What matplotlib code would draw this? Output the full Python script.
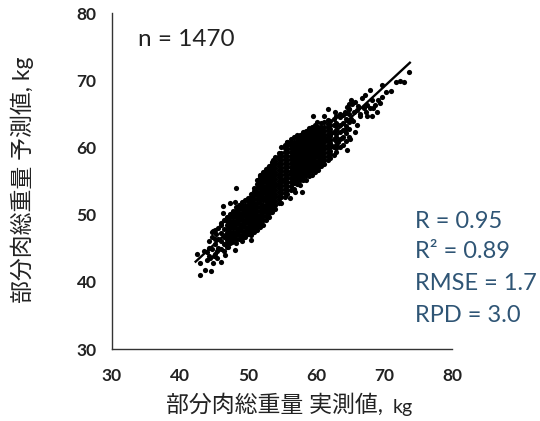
# -*- coding: utf-8 -*-
import numpy as np, matplotlib
matplotlib.use("Agg"); import matplotlib.pyplot as plt

# 外れ気味の点
out_x = [43.0, 44.6, 43.7, 42.5, 42.9, 43.9, 44.8, 46.1, 45.4, 46.6, 48.1, 50.5, 46.0, 46.3, 46.3, 47.35, 48.1, 48.2,
         53.0, 51.8, 53.7, 57.2, 55.7, 59.6, 60.2, 61.7, 56.9, 57.9, 56.2, 64.5, 65.7, 66.0, 65.0, 64.3, 65.2, 65.7,
         67.5, 68.2, 66.5, 68.9, 69.4, 71.1, 71.8, 72.9, 73.7, 69.7, 68.0, 67.2, 69.7, 68.2, 67.5, 67.9, 67.0, 68.7,
         66.8, 67.4, 68.4, 69.1, 66.2, 64.9, 65.6, 72.3, 70.3, 63.6, 62.8, 61.2, 66.4, 65.1,
         44.0, 45.0, 45.5, 44.4, 46.4, 47.1, 47.6, 43.6, 44.9, 45.3, 64.6, 64.9, 65.3, 66.0, 63.2, 63.8, 64.2, 62.4, 65.5]
out_y = [41.0, 41.65, 41.75, 44.2, 42.75, 43.2, 42.75, 43.0, 43.5, 44.0, 44.7, 46.2, 48.7, 50.2, 51.3, 51.8, 51.9, 53.9,
         56.9, 55.9, 58.1, 61.7, 60.8, 64.6, 63.8, 65.7, 53.4, 53.4, 52.4, 59.6, 62.3, 63.3, 61.3, 65.3, 67.05, 66.8,
         64.6, 64.6, 64.6, 65.3, 66.55, 68.4, 69.7, 69.7, 71.2, 69.3, 68.6, 67.8, 67.5, 67.0, 66.3, 65.8, 65.8, 66.3,
         67.3, 65.2, 65.9, 67.1, 66.1, 66.4, 65.2, 69.9, 68.2, 65.0, 65.2, 64.7, 65.0, 64.2,
         44.4, 43.9, 44.6, 43.5, 44.6, 45.2, 45.9, 44.6, 47.5, 47.1, 66.0, 65.7, 66.4, 65.6, 60.8, 61.4, 62.6, 60.2, 63.9]
# 密集帯：実測値の列ごとに予測値を読む
col_x = [44.2, 44.7, 45.1, 45.6, 46.0, 46.5, 46.9, 47.3, 47.8, 48.2, 48.7, 49.1, 49.6, 50.0, 50.4, 50.9, 51.3, 51.8,
         52.2, 52.7, 53.1, 53.6, 54.0, 54.5, 54.9, 55.4, 55.8, 56.3, 56.7, 57.2, 57.6, 58.1, 58.5, 59.0, 59.4, 59.9,
         60.3, 60.8, 61.2, 61.7, 62.1, 62.6, 63.0, 63.5, 63.9, 64.4, 64.8]
col_y = [[43.9, 45.0, 46.1], [44.9, 46.6, 47.4], [44.2, 45.6, 46.3, 47.7], [45.1, 46.3, 48.0],
         [44.9, 46.0, 47.2, 48.4], [45.6, 46.7, 47.9, 49.2], [45.2, 46.2, 47.3, 48.5, 49.7],
         [45.8, 46.9, 48.0, 49.1, 50.1], [46.3, 47.4, 48.5, 49.6, 50.6], [45.8, 46.9, 48.0, 49.1, 50.1, 51.1],
         [46.4, 47.5, 48.6, 49.7, 50.8, 51.5], [46.0, 47.0, 48.1, 49.2, 50.3, 51.3, 51.9], [46.6, 47.6, 48.7, 49.8, 50.9, 52.1],
         [47.1, 48.2, 49.3, 50.4, 51.5, 52.4], [46.9, 47.8, 48.9, 50.0, 51.1, 52.2, 53.1], [47.4, 48.5, 49.6, 50.7, 51.8, 52.9, 54.0],
         [47.7, 48.9, 50.0, 51.2, 52.3, 53.4, 54.5, 55.1], [48.1, 49.4, 50.6, 51.7, 52.8, 53.9, 55.0, 55.8],
         [48.5, 49.8, 50.9, 52.1, 53.2, 54.3, 55.4, 56.3], [49.2, 50.4, 51.5, 52.6, 53.7, 54.8, 55.9, 56.8],
         [49.7, 50.8, 51.9, 53.0, 54.1, 55.2, 56.3, 57.2], [50.4, 51.6, 52.7, 53.8, 54.9, 56.0, 57.1, 57.9],
         [50.9, 52.0, 53.1, 54.2, 55.3, 56.4, 57.5, 58.5], [51.7, 52.8, 53.9, 55.0, 56.1, 57.2, 58.3, 59.1],
         [51.8, 52.6, 53.7, 54.8, 55.9, 57.0, 58.1, 59.2, 60.0], [52.6, 53.8, 54.9, 56.0, 57.1, 58.2, 59.3, 60.4],
         [53.0, 54.3, 55.4, 56.5, 57.6, 58.7, 59.8, 60.8], [53.7, 54.9, 56.0, 57.1, 58.2, 59.3, 60.4, 61.2],
         [53.8, 54.7, 55.8, 56.9, 58.0, 59.1, 60.2, 61.5], [54.5, 55.5, 56.6, 57.7, 58.8, 59.9, 61.0, 61.8],
         [54.4, 55.2, 56.3, 57.4, 58.5, 59.6, 60.7, 61.9], [55.1, 56.1, 57.2, 58.3, 59.4, 60.5, 61.6, 62.3],
         [55.2, 55.9, 57.0, 58.1, 59.2, 60.3, 61.4, 62.5], [55.8, 56.8, 57.9, 59.0, 60.1, 61.2, 62.3, 62.9],
         [55.9, 56.6, 57.7, 58.8, 59.9, 61.0, 62.1, 63.1], [56.4, 57.4, 58.5, 59.6, 60.7, 61.8, 62.9, 63.3],
         [56.7, 57.5, 58.6, 59.7, 60.8, 61.9, 63.0], [57.2, 58.2, 59.3, 60.4, 61.5, 62.6, 63.6],
         [57.6, 58.6, 59.7, 60.8, 61.9, 63.0, 63.8], [58.1, 59.3, 60.4, 61.5, 62.6, 63.5, 64.1],
         [58.4, 59.5, 60.6, 61.7, 62.8, 63.9], [58.9, 60.1, 61.2, 62.3, 63.4, 64.3], [59.3, 60.4, 61.5, 62.6, 63.7, 64.6],
         [60.0, 61.2, 62.3, 63.4, 64.5], [60.4, 61.5, 62.6, 63.7, 64.8], [61.0, 62.1, 63.2, 64.3, 65.1],
         [61.6, 62.7, 63.8, 64.9, 65.7]]
# 列の間を埋める点
fill_x = [46.9, 47.8, 48.7, 49.6, 50.4, 51.3, 52.2, 53.1, 54.0, 54.9, 55.8, 56.7, 57.6, 58.5, 59.4, 60.3, 61.2, 62.1, 63.0,
          47.3, 48.2, 49.1, 50.0, 50.9, 51.8, 52.7, 53.6, 54.5, 55.4, 56.3, 57.2, 58.1, 59.0, 59.9, 60.8, 61.7]
fill_y = [[45.7, 46.75, 47.9, 49.1], [46.85, 47.95, 49.05, 50.1], [46.95, 48.05, 49.15, 50.25],
          [47.1, 48.15, 49.25, 50.35, 51.5], [47.35, 48.35, 49.45, 50.55, 51.65, 52.65],
          [48.3, 49.45, 50.6, 51.75, 52.85, 53.95], [49.15, 50.35, 51.5, 52.65, 53.75, 54.85, 55.85],
          [50.25, 51.35, 52.45, 53.55, 54.65, 55.75, 56.75], [51.45, 52.55, 53.65, 54.75, 55.85, 56.95, 58.0],
          [53.15, 54.25, 55.35, 56.45, 57.55, 58.65], [53.65, 54.85, 55.95, 57.05, 58.15, 59.25, 60.3],
          [55.25, 56.35, 57.45, 58.55, 59.65, 60.85], [55.75, 56.85, 57.95, 59.05, 60.15, 61.3],
          [56.45, 57.55, 58.65, 59.75, 60.85, 61.95], [57.15, 58.25, 59.35, 60.45, 61.55, 62.6],
          [57.1, 58.05, 59.15, 60.25, 61.35, 62.45], [58.1, 59.15, 60.25, 61.35, 62.45],
          [58.95, 60.05, 61.15, 62.25, 63.35], [59.85, 60.95, 62.05, 63.15],
          [46.35, 47.45, 48.55, 49.6], [46.35, 47.45, 48.55, 49.6, 50.6], [46.5, 47.55, 48.65, 49.75, 50.8],
          [47.65, 48.75, 49.85, 50.95, 51.95], [47.95, 49.05, 50.15, 51.25, 52.35, 53.45],
          [48.75, 50.0, 51.15, 52.25, 53.35, 54.45, 55.4], [49.8, 50.95, 52.05, 53.15, 54.25, 55.35, 56.35],
          [51.0, 52.15, 53.25, 54.35, 55.45, 56.55, 57.5], [52.25, 53.35, 54.45, 55.55, 56.65, 57.75, 58.7],
          [53.2, 54.35, 55.45, 56.55, 57.65, 58.75, 59.85], [54.3, 55.45, 56.55, 57.65, 58.75, 59.85, 60.8],
          [55.0, 56.05, 57.15, 58.25, 59.35, 60.45, 61.4], [55.6, 56.65, 57.75, 58.85, 59.95, 61.05, 61.95],
          [56.3, 57.35, 58.45, 59.55, 60.65, 61.75, 62.6], [56.9, 57.95, 59.05, 60.15, 61.25, 62.35],
          [57.7, 58.75, 59.85, 60.95, 62.05, 63.1], [58.7, 59.85, 60.95, 62.05, 63.05]]
fit_x = [42.3, 73.8]; fit_y = [43.0, 72.6]
ticks = [30, 40, 50, 60, 70, 80]
stats = ["R = 0.95", "R² = 0.89", "RMSE = 1.7", "RPD = 3.0"]

x = out_x + [a for a, ys in zip(col_x, col_y) for _ in ys] + [a for a, ys in zip(fill_x, fill_y) for _ in ys]
y = out_y + [b for ys in col_y for b in ys] + [b for ys in fill_y for b in ys]

plt.rcParams['font.family'] = ['Lato', 'Noto Sans CJK JP', 'DejaVu Sans']
W, H = 540, 421
fig = plt.figure(figsize=(W / 100, H / 100), dpi=100)
ax = fig.add_axes([112 / W, (H - 349) / H, 340 / W, 336 / H])
ax.scatter(x, y, s=14, c="black", lw=0, zorder=3)
ax.plot(fit_x, fit_y, color="black", lw=1.7, zorder=4)
ax.set_xlim(30, 80); ax.set_ylim(30, 80)
ax.set_xticks(ticks); ax.set_yticks(ticks)
ax.tick_params(length=0, labelsize=12.5, pad=14, colors="#222222")
ax.tick_params(axis="y", pad=11)
for t in ax.get_xticklabels() + ax.get_yticklabels():
    t.set_fontweight("bold")
for s in ["top", "right"]:
    ax.spines[s].set_visible(False)
for s in ["left", "bottom"]:
    ax.spines[s].set_color("#333333"); ax.spines[s].set_linewidth(1.0)

fig.text(166 / W, 1 - 405 / H, "部分肉総重量 実測値,", ha="left", va="center", fontsize=16.5, color="#222222")
fig.text(393 / W, 1 - 407 / H, "kg", ha="left", va="center", fontsize=14, color="#222222")
fig.text(22 / W, 1 - 180 / H, "部分肉総重量 予測値, kg", rotation=90, ha="center", va="center", fontsize=16.5, color="#222222")
fig.text(138 / W, 1 - 39 / H, "n = 1470", ha="left", va="center", fontsize=17.5, color="#222222")
for s, py in zip(stats, [221, 251, 284, 315]):
    fig.text(415 / W, 1 - py / H, s, ha="left", va="center", fontsize=17, color="#2F5575")
fig.savefig("out.png", dpi=100)
